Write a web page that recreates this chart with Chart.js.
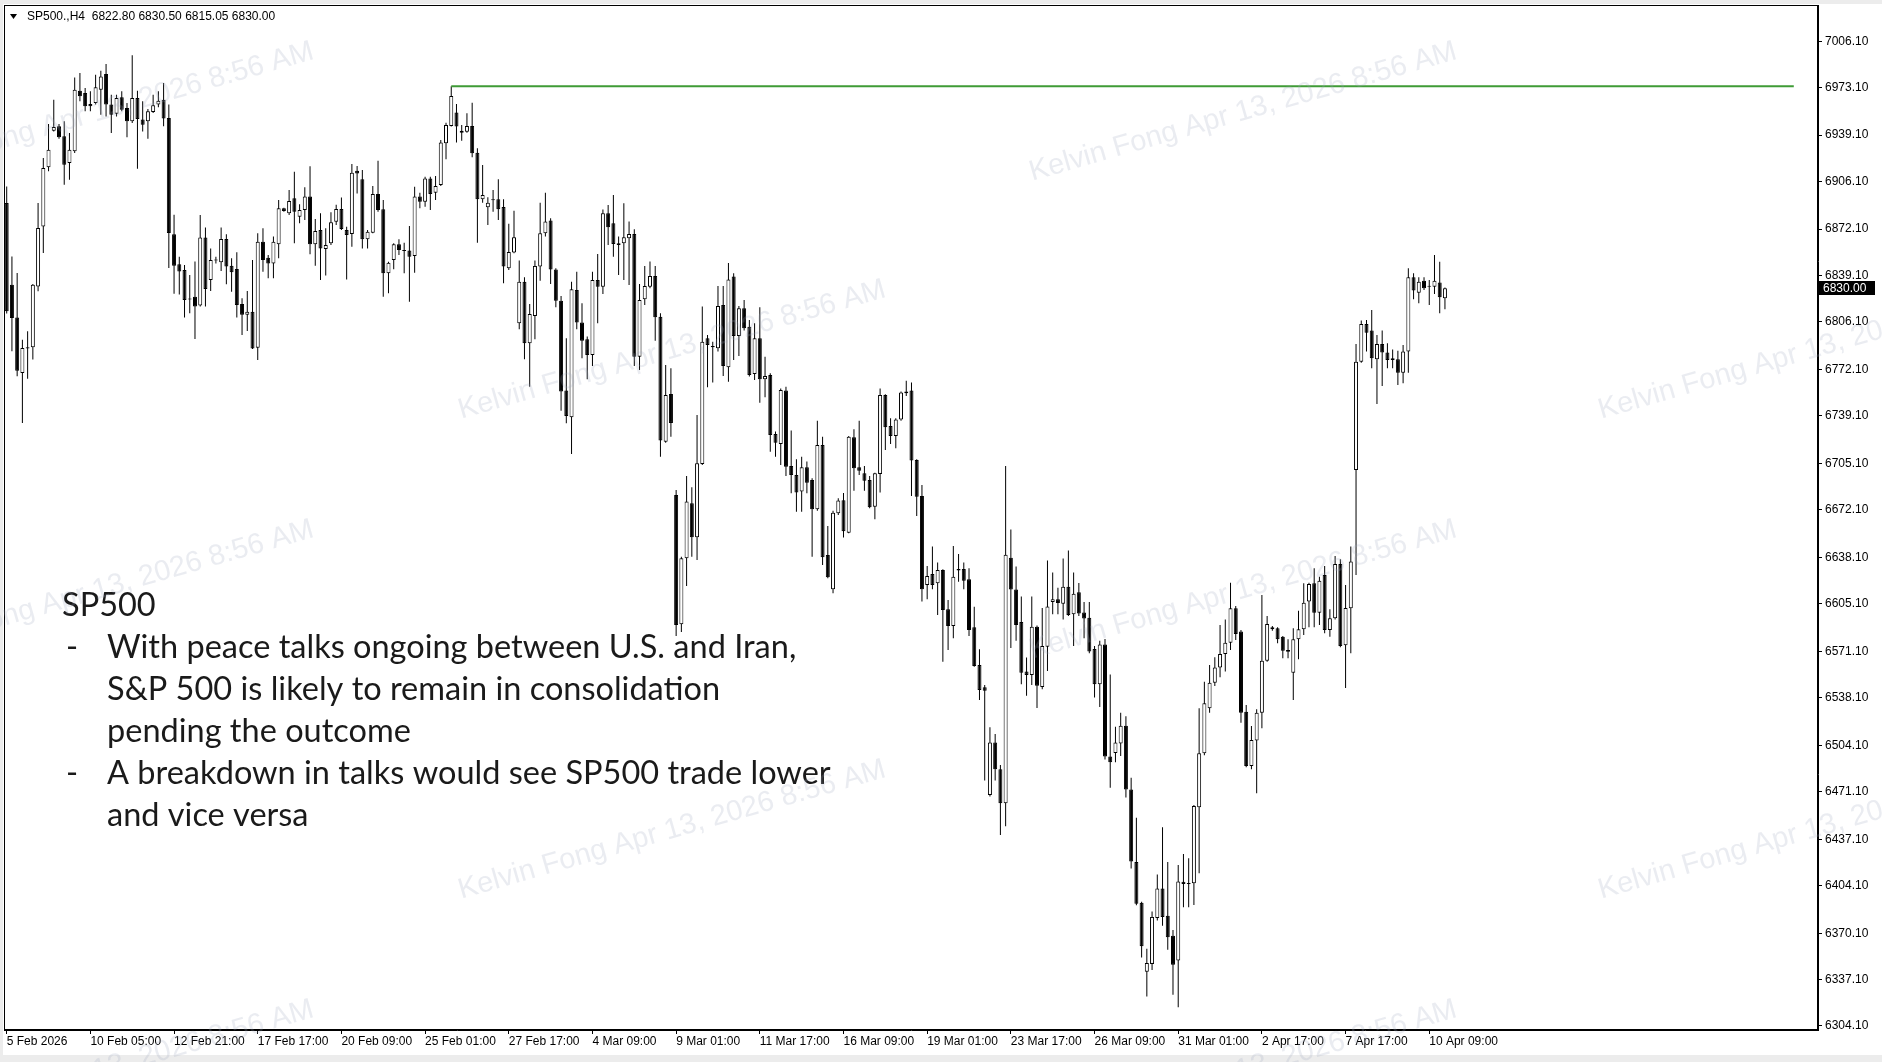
<!DOCTYPE html>
<html>
<head>
<meta charset="utf-8">
<title>SP500 H4</title>
<script src="https://cdn.jsdelivr.net/npm/chart.js@4.4.1/dist/chart.umd.min.js"></script>
<style>
    html, body { margin: 0; padding: 0; background: #ffffff; }
    #wrap { width: 1882px; height: 1062px; }
</style>
</head>
<body>
<div id="wrap"><canvas id="priceChart" width="1882" height="1062"></canvas></div>
<script>
// H4 candles, 5 Feb 2026 -> 10 Apr 2026 (one row = 10 bars)
const opens = [
    6890.8, 6832.5, 6809.2, 6769.6, 6788.0, 6787.9, 6831.3, 6874.0, 6916.2, 6942.3,
    6945.4, 6938.3, 6919.3, 6927.6, 6970.8, 6969.2, 6961.3, 6962.0, 6971.5, 6982.7,
    6960.9, 6954.4, 6966.1, 6958.5, 6949.0, 6965.6, 6950.2, 6949.0, 6955.6, 6960.9,
    6964.4, 6951.4, 6868.5, 6847.0, 6843.0, 6822.5, 6824.0, 6817.6, 6866.1, 6835.9,
    6849.8, 6848.5, 6865.1, 6846.1, 6843.7, 6818.8, 6811.0, 6813.3, 6787.6, 6863.2,
    6851.8, 6847.7, 6861.3, 6887.0, 6883.4, 6894.1, 6881.0, 6885.8, 6895.3, 6861.3,
    6871.5, 6858.0, 6862.0, 6877.4, 6886.4, 6871.5, 6868.7, 6913.8, 6907.6, 6864.9,
    6869.6, 6897.2, 6886.3, 6840.6, 6850.1, 6861.3, 6856.8, 6856.8, 6853.0, 6895.3,
    6891.7, 6908.3, 6898.1, 6903.6, 6933.3, 6945.7, 6955.2, 6942.3, 6941.6, 6945.7,
    6926.6, 6893.4, 6887.7, 6892.9, 6893.4, 6887.9, 6844.2, 6855.4, 6805.0, 6834.7,
    6790.7, 6810.2, 6845.4, 6869.1, 6878.2, 6843.4, 6821.1, 6757.0, 6738.0, 6828.7,
    6805.5, 6793.6, 6782.4, 6835.9, 6831.1, 6883.4, 6876.3, 6862.0, 6862.0, 6865.6,
    6868.7, 6781.2, 6822.1, 6831.1, 6838.7, 6809.7, 6720.6, 6754.6, 6682.6, 6590.5,
    6637.5, 6676.7, 6652.4, 6704.7, 6794.3, 6788.8, 6787.2, 6818.0, 6773.6, 6838.3,
    6795.9, 6815.7, 6802.6, 6768.9, 6794.3, 6765.1, 6768.1, 6726.1, 6719.0, 6757.0,
    6703.3, 6696.9, 6685.0, 6702.3, 6693.3, 6672.4, 6718.3, 6639.8, 6615.4, 6669.5,
    6678.8, 6655.7, 6723.7, 6702.3, 6698.1, 6693.3, 6674.3, 6697.6, 6753.9, 6731.8,
    6724.7, 6736.5, 6756.3, 6757.0, 6707.6, 6681.9, 6618.4, 6626.3, 6619.6, 6629.1,
    6601.1, 6589.2, 6629.9, 6629.9, 6622.5, 6588.3, 6561.4, 6545.5, 6468.7, 6506.1,
    6487.1, 6462.8, 6637.9, 6615.2, 6592.0, 6556.7, 6554.2, 6588.7, 6545.8, 6574.4,
    6606.4, 6608.2, 6605.1, 6617.2, 6597.6, 6613.2, 6598.8, 6595.1, 6572.8, 6547.6,
    6576.1, 6496.1, 6498.6, 6505.5, 6518.1, 6472.7, 6420.9, 6391.9, 6342.7, 6348.3,
    6381.1, 6402.0, 6382.6, 6368.4, 6350.8, 6406.9, 6405.3, 6405.8, 6460.0, 6498.4,
    6530.5, 6548.8, 6559.7, 6569.3, 6577.3, 6601.8, 6585.2, 6528.1, 6489.4, 6507.5,
    6527.4, 6564.5, 6588.3, 6587.6, 6581.6, 6572.1, 6555.9, 6579.7, 6586.8, 6606.6,
    6619.6, 6598.7, 6625.6, 6586.4, 6594.7, 6633.4, 6575.5, 6601.8, 6700.4, 6777.6,
    6804.5, 6799.8, 6779.3, 6790.2, 6784.1, 6780.0, 6779.3, 6769.8, 6784.8, 6837.8,
    6826.8, 6835.4, 6831.5, 6831.1, 6834.0, 6822.80
];
const highs = [
    6902.6, 6852.7, 6840.9, 6793.3, 6799.3, 6833.0, 6890.8, 6922.8, 6947.1, 6964.4,
    6947.1, 6949.0, 6940.7, 6980.3, 6983.4, 6972.8, 6970.4, 6982.2, 6985.1, 6989.8,
    6968.0, 6968.0, 6970.4, 6962.0, 6996.0, 6970.8, 6963.2, 6957.8, 6968.0, 6970.4,
    6976.3, 6960.9, 6882.3, 6852.5, 6846.6, 6839.4, 6849.0, 6882.2, 6873.2, 6858.4,
    6852.5, 6873.2, 6868.4, 6851.3, 6855.6, 6822.8, 6828.0, 6850.1, 6869.1, 6872.7,
    6853.7, 6866.8, 6892.9, 6887.4, 6900.0, 6913.0, 6889.8, 6902.0, 6917.0, 6879.4,
    6883.4, 6872.7, 6884.1, 6889.5, 6894.7, 6873.9, 6918.6, 6917.1, 6914.3, 6871.5,
    6902.9, 6920.9, 6892.9, 6848.9, 6862.0, 6864.9, 6862.5, 6874.4, 6902.4, 6898.1,
    6909.5, 6909.5, 6910.0, 6935.7, 6948.0, 6974.0, 6961.3, 6946.4, 6954.7, 6962.3,
    6929.7, 6917.8, 6894.8, 6900.0, 6907.6, 6893.4, 6876.0, 6885.3, 6849.7, 6837.8,
    6818.8, 6849.7, 6891.0, 6898.0, 6879.8, 6844.2, 6824.5, 6794.3, 6834.7, 6841.8,
    6819.2, 6795.5, 6841.8, 6854.4, 6886.2, 6889.3, 6896.5, 6866.8, 6890.5, 6877.5,
    6872.0, 6833.0, 6845.9, 6849.0, 6845.9, 6812.1, 6775.3, 6772.9, 6686.2, 6638.6,
    6696.1, 6688.1, 6739.6, 6816.9, 6796.7, 6791.9, 6831.6, 6831.6, 6848.0, 6840.6,
    6817.3, 6821.6, 6807.4, 6805.0, 6816.4, 6781.2, 6769.3, 6727.8, 6758.6, 6759.8,
    6728.5, 6708.0, 6709.9, 6706.4, 6694.5, 6735.6, 6724.2, 6660.5, 6671.4, 6680.2,
    6684.0, 6724.7, 6729.4, 6735.6, 6703.3, 6696.1, 6698.5, 6758.6, 6754.5, 6737.3,
    6737.3, 6756.3, 6764.1, 6762.7, 6708.0, 6689.7, 6632.0, 6645.8, 6634.4, 6629.6,
    6607.7, 6646.2, 6640.5, 6634.4, 6630.3, 6603.0, 6572.6, 6547.2, 6517.0, 6512.2,
    6490.1, 6703.3, 6658.0, 6631.6, 6610.2, 6566.8, 6610.2, 6589.5, 6602.1, 6635.9,
    6627.3, 6616.5, 6637.4, 6643.0, 6627.3, 6619.8, 6606.4, 6606.4, 6574.9, 6578.6,
    6579.9, 6554.7, 6517.3, 6527.4, 6524.9, 6481.0, 6452.5, 6392.7, 6359.1, 6385.6,
    6412.1, 6445.7, 6420.9, 6372.5, 6418.9, 6426.7, 6423.6, 6461.6, 6530.5, 6549.5,
    6561.4, 6566.9, 6589.9, 6593.9, 6620.1, 6603.4, 6586.4, 6532.9, 6517.9, 6529.8,
    6611.3, 6596.3, 6589.2, 6588.3, 6582.1, 6579.7, 6587.6, 6600.1, 6619.6, 6620.1,
    6630.3, 6624.4, 6632.0, 6601.1, 6639.1, 6636.7, 6618.5, 6645.8, 6790.2, 6806.9,
    6807.3, 6814.5, 6796.7, 6799.8, 6790.7, 6786.4, 6785.5, 6789.5, 6844.2, 6840.6,
    6837.8, 6837.8, 6835.9, 6853.7, 6848.9, 6830.50
];
const lows = [
    6812.0, 6785.0, 6767.2, 6733.9, 6765.5, 6779.1, 6827.8, 6855.1, 6913.3, 6941.8,
    6936.6, 6903.8, 6907.4, 6926.4, 6963.2, 6956.1, 6956.1, 6960.9, 6953.7, 6952.5,
    6940.7, 6952.5, 6956.1, 6937.6, 6947.8, 6915.2, 6941.8, 6936.6, 6954.9, 6959.0,
    6945.4, 6844.4, 6826.0, 6825.6, 6809.1, 6812.1, 6793.8, 6816.9, 6816.9, 6828.0,
    6847.7, 6842.3, 6832.8, 6827.5, 6809.1, 6796.7, 6799.5, 6786.7, 6778.8, 6841.8,
    6837.1, 6837.1, 6851.3, 6884.6, 6882.2, 6862.0, 6876.3, 6878.6, 6854.2, 6846.1,
    6835.9, 6839.0, 6860.8, 6875.0, 6871.5, 6836.3, 6859.6, 6897.6, 6858.4, 6858.4,
    6869.1, 6884.6, 6824.0, 6826.4, 6843.5, 6853.7, 6840.6, 6820.4, 6841.1, 6887.0,
    6888.1, 6885.8, 6892.9, 6902.9, 6921.9, 6945.2, 6933.8, 6935.2, 6940.9, 6923.3,
    6862.5, 6891.0, 6875.1, 6884.6, 6878.6, 6833.5, 6843.0, 6854.9, 6800.7, 6779.3,
    6759.8, 6793.6, 6835.4, 6866.8, 6833.0, 6816.4, 6742.7, 6733.7, 6711.8, 6800.7,
    6780.0, 6765.1, 6774.6, 6805.0, 6825.9, 6860.8, 6852.5, 6839.4, 6835.9, 6832.3,
    6774.6, 6771.7, 6818.1, 6829.9, 6792.6, 6709.9, 6719.9, 6724.2, 6582.0, 6585.0,
    6617.8, 6638.6, 6636.3, 6704.0, 6759.4, 6762.7, 6784.8, 6767.4, 6763.4, 6778.8,
    6781.7, 6799.8, 6767.0, 6764.6, 6748.4, 6752.2, 6713.5, 6709.9, 6704.0, 6696.1,
    6683.8, 6670.7, 6670.7, 6683.8, 6638.6, 6671.4, 6632.7, 6623.2, 6612.5, 6668.4,
    6652.3, 6655.3, 6685.7, 6696.9, 6685.7, 6673.1, 6665.3, 6684.3, 6714.7, 6719.0,
    6715.9, 6735.6, 6753.2, 6681.9, 6667.6, 6606.6, 6608.2, 6615.4, 6597.1, 6563.8,
    6572.1, 6580.4, 6620.8, 6615.4, 6582.1, 6560.2, 6536.5, 6479.0, 6467.6, 6479.0,
    6440.2, 6446.4, 6573.5, 6578.6, 6547.6, 6539.5, 6547.1, 6530.7, 6544.1, 6557.2,
    6597.6, 6597.6, 6593.8, 6596.3, 6574.9, 6596.3, 6580.4, 6569.8, 6538.3, 6531.5,
    6494.1, 6473.9, 6492.1, 6496.6, 6466.9, 6416.4, 6390.1, 6352.8, 6325.0, 6344.0,
    6379.3, 6375.5, 6358.4, 6326.3, 6317.5, 6388.7, 6388.7, 6390.3, 6412.9, 6497.0,
    6527.4, 6546.4, 6552.6, 6556.7, 6572.1, 6579.2, 6520.3, 6488.5, 6487.1, 6469.9,
    6516.3, 6563.8, 6585.9, 6576.9, 6566.2, 6566.2, 6536.5, 6565.5, 6582.8, 6588.3,
    6588.3, 6589.9, 6584.0, 6581.6, 6593.9, 6574.0, 6545.0, 6569.7, 6625.6, 6776.9,
    6784.8, 6772.9, 6747.5, 6760.3, 6772.9, 6772.9, 6761.0, 6762.2, 6769.8, 6822.1,
    6819.2, 6828.7, 6818.0, 6825.9, 6812.1, 6815.05
];
const closes = [
    6813.5, 6808.8, 6771.2, 6787.4, 6787.0, 6832.5, 6872.9, 6915.7, 6928.8, 6944.9,
    6937.6, 6918.1, 6928.8, 6971.5, 6966.8, 6959.7, 6959.7, 6973.2, 6981.0, 6960.9,
    6953.7, 6965.6, 6957.3, 6949.0, 6965.6, 6950.6, 6946.6, 6956.1, 6960.4, 6963.7,
    6950.9, 6869.4, 6846.0, 6842.0, 6821.6, 6822.0, 6816.9, 6866.1, 6829.5, 6850.1,
    6850.4, 6865.1, 6845.4, 6841.3, 6818.0, 6811.0, 6813.3, 6787.1, 6863.2, 6850.1,
    6847.7, 6863.2, 6887.0, 6885.1, 6892.2, 6884.6, 6885.8, 6895.3, 6861.3, 6870.8,
    6858.4, 6860.8, 6877.0, 6886.4, 6872.3, 6867.9, 6912.4, 6911.8, 6864.9, 6870.3,
    6897.2, 6885.8, 6840.6, 6848.2, 6861.3, 6857.3, 6856.5, 6852.5, 6895.3, 6891.7,
    6908.3, 6897.2, 6902.9, 6933.8, 6946.4, 6967.0, 6945.2, 6940.9, 6945.7, 6926.2,
    6893.4, 6896.5, 6891.0, 6892.7, 6886.3, 6845.4, 6855.8, 6866.3, 6834.7, 6790.7,
    6811.6, 6845.9, 6869.1, 6877.5, 6843.4, 6821.1, 6756.3, 6738.9, 6829.2, 6805.5,
    6792.6, 6782.4, 6835.9, 6831.1, 6883.4, 6873.4, 6861.5, 6860.8, 6866.3, 6868.7,
    6781.2, 6821.6, 6831.6, 6838.7, 6809.3, 6721.4, 6753.9, 6734.0, 6590.0, 6637.5,
    6677.9, 6652.4, 6705.2, 6791.9, 6789.5, 6787.9, 6817.3, 6774.6, 6836.3, 6795.9,
    6815.7, 6801.4, 6768.1, 6794.3, 6765.1, 6767.4, 6725.4, 6719.9, 6757.5, 6702.8,
    6696.9, 6684.3, 6702.3, 6691.4, 6672.4, 6718.3, 6638.2, 6623.9, 6670.0, 6678.6,
    6656.8, 6724.2, 6701.6, 6699.9, 6692.8, 6673.8, 6698.1, 6753.9, 6730.8, 6724.7,
    6736.5, 6755.6, 6755.1, 6707.1, 6681.4, 6615.4, 6624.9, 6618.4, 6629.1, 6600.6,
    6589.2, 6624.4, 6628.7, 6621.5, 6586.4, 6560.7, 6543.6, 6543.1, 6506.1, 6487.1,
    6462.8, 6640.0, 6615.2, 6590.0, 6555.9, 6554.2, 6588.7, 6546.6, 6574.9, 6603.1,
    6608.2, 6605.6, 6617.2, 6597.1, 6612.2, 6598.1, 6594.5, 6571.1, 6547.6, 6576.1,
    6496.1, 6492.1, 6506.2, 6518.1, 6472.7, 6421.4, 6391.2, 6360.9, 6349.0, 6381.8,
    6402.0, 6381.8, 6367.4, 6347.7, 6407.1, 6405.3, 6405.8, 6460.9, 6498.4, 6534.1,
    6548.8, 6559.7, 6569.3, 6577.3, 6601.8, 6583.5, 6527.4, 6489.4, 6507.9, 6527.4,
    6564.5, 6590.6, 6586.8, 6579.7, 6571.6, 6570.9, 6579.7, 6586.8, 6605.8, 6619.2,
    6598.7, 6621.5, 6586.4, 6594.7, 6633.4, 6575.0, 6602.0, 6635.1, 6777.6, 6804.5,
    6798.3, 6780.0, 6790.2, 6784.1, 6778.8, 6778.8, 6769.8, 6784.8, 6837.8, 6828.3,
    6834.7, 6829.9, 6831.0, 6835.4, 6823.5, 6830.00
];

// one time label every 16 bars
const tickEvery = 16;
const timeLabels = [
    '5 Feb 2026', '10 Feb 05:00', '12 Feb 21:00', '17 Feb 17:00', '20 Feb 09:00',
    '25 Feb 01:00', '27 Feb 17:00', '4 Mar 09:00', '9 Mar 01:00', '11 Mar 17:00',
    '16 Mar 09:00', '19 Mar 01:00', '23 Mar 17:00', '26 Mar 09:00', '31 Mar 01:00',
    '2 Apr 17:00', '7 Apr 17:00', '10 Apr 09:00'
];
const priceTicks = [
    7006.10, 6973.10, 6939.10, 6906.10, 6872.10, 6839.10, 6806.10, 6772.10,
    6739.10, 6705.10, 6672.10, 6638.10, 6605.10, 6571.10, 6538.10, 6504.10,
    6471.10, 6437.10, 6404.10, 6370.10, 6337.10, 6304.10
];

// resistance level drawn from the 25 Feb high
const levelPrice = 6974.0;
const levelFromBar = 85;
const levelToBar = 341.7;

const lastPrice = 6830.00;
const headerText = 'SP500.,H4  6822.80 6830.50 6815.05 6830.00';
const noteTitle = 'SP500';
const noteLines = [
    { dash: true, text: 'With peace talks ongoing between U.S. and Iran,' },
    { dash: false, text: 'S&P 500 is likely to remain in consolidation' },
    { dash: false, text: 'pending the outcome' },
    { dash: true, text: 'A breakdown in talks would see SP500 trade lower' },
    { dash: false, text: 'and vice versa' }
];
const watermark = 'Kelvin Fong Apr 13, 2026 8:56 AM';

const axisFont = { family: '"Liberation Sans", Arial, sans-serif', size: 12 };

const barIdx = opens.map((_, i) => i);
const wickData = barIdx.map(i => ({ x: i, y: [lows[i], highs[i]] }));
const bodyData = barIdx.map(i => ({ x: i, y: [opens[i], closes[i]] }));

// kill the label overhang padding so the plot fills the frame
function noPad(scale) {
    scale.paddingTop = 0;
    scale.paddingBottom = 0;
    scale.paddingLeft = 0;
    scale.paddingRight = 0;
}

const chartDecor = {
    id: 'chartDecor',
    beforeDraw(chart) {
        const ctx = chart.ctx;
        ctx.save();
        ctx.fillStyle = '#ffffff';
        ctx.fillRect(0, 0, chart.width, chart.height);
        ctx.fillStyle = '#ececec';
        ctx.fillRect(0, 0, chart.width, 4);
        ctx.fillRect(0, 0, 3, chart.height);
        ctx.fillRect(0, 1055, chart.width, 7);
        ctx.restore();
    },
    afterDraw(chart) {
        const { ctx, chartArea: a, scales } = chart;
        ctx.save();

        // frame
        ctx.strokeStyle = '#000000';
        ctx.lineWidth = 1;
        ctx.strokeRect(a.left + 0.5, a.top + 0.5, a.right - a.left - 1, a.bottom - a.top - 1);

        // header
        ctx.fillStyle = '#000000';
        ctx.beginPath();
        ctx.moveTo(10, 14);
        ctx.lineTo(17, 14);
        ctx.lineTo(13.5, 19);
        ctx.closePath();
        ctx.fill();
        ctx.font = '12px "Liberation Sans", Arial, sans-serif';
        ctx.textBaseline = 'middle';
        ctx.textAlign = 'left';
        ctx.fillText(headerText, 27, 17);

        // last price box on the axis
        const py = Math.round(scales.y.getPixelForValue(lastPrice));
        ctx.fillStyle = '#000000';
        ctx.fillRect(a.right + 1, py - 7, 56, 14);
        ctx.fillStyle = '#ffffff';
        ctx.fillText(lastPrice.toFixed(2), a.right + 5, py + 0.5);

        // commentary
        ctx.fillStyle = '#1a1a1a';
        ctx.font = '32.5px Lato, "Open Sans", sans-serif';
        ctx.fillText(noteTitle, 62, 606);
        noteLines.forEach((ln, k) => {
            const y = 648 + k * 42;
            if (ln.dash) ctx.fillText('-', 66, y);
            ctx.fillText(ln.text, 107, y);
        });

        // faint watermarks
        ctx.fillStyle = 'rgba(160, 168, 190, 0.22)';
        ctx.font = '29px "Liberation Sans", Arial, sans-serif';
        ctx.textAlign = 'center';
        const spots = [
            [100, 112], [1243, 112], [672, 350], [1812, 350],
            [100, 590], [1243, 590], [672, 830], [1812, 830],
            [100, 1070], [1243, 1070]
        ];
        spots.forEach(([cx, cy]) => {
            ctx.save();
            ctx.translate(cx, cy);
            ctx.rotate(-16 * Math.PI / 180);
            ctx.fillText(watermark, 0, 0);
            ctx.restore();
        });

        ctx.restore();
    }
};

new Chart(document.getElementById('priceChart'), {
    type: 'bar',
    data: {
        datasets: [
            {
                type: 'line',
                data: [{ x: levelFromBar, y: levelPrice }, { x: levelToBar, y: levelPrice }],
                borderColor: '#3f9b36',
                borderWidth: 2,
                pointRadius: 0,
                order: 1
            },
            {
                data: bodyData,
                grouped: false,
                barThickness: 4,
                minBarLength: 1,
                borderSkipped: false,
                inflateAmount: 0,
                borderWidth: 1,
                borderColor: '#000000',
                backgroundColor: ctx => closes[ctx.dataIndex] >= opens[ctx.dataIndex] ? '#ffffff' : '#000000',
                order: 2
            },
            {
                data: wickData,
                grouped: false,
                barThickness: 1,
                borderWidth: 0,
                inflateAmount: 0,
                backgroundColor: '#000000',
                order: 3
            }
        ]
    },
    options: {
        responsive: false,
        maintainAspectRatio: false,
        animation: false,
        events: [],
        layout: { padding: { left: 4, top: 5, right: 0, bottom: 0 } },
        plugins: {
            legend: { display: false },
            tooltip: { enabled: false }
        },
        scales: {
            x: {
                type: 'linear',
                position: 'bottom',
                offset: false,
                min: -0.516,
                max: 346.33,
                afterBuildTicks: scale => {
                    scale.ticks = timeLabels.map((_, k) => ({ value: k * tickEvery }));
                },
                afterFit: scale => { scale.height = 32; noPad(scale); },
                ticks: {
                    autoSkip: false,
                    maxRotation: 0,
                    align: 'start',
                    padding: 0,
                    color: '#000000',
                    font: axisFont,
                    callback: value => timeLabels[Math.round(value / tickEvery)]
                },
                grid: {
                    offset: false,
                    drawOnChartArea: false,
                    drawTicks: true,
                    tickLength: 4,
                    color: '#000000'
                },
                border: { display: true, color: '#000000' }
            },
            y: {
                type: 'linear',
                position: 'right',
                min: 6301.2,
                max: 7031.9,
                afterBuildTicks: scale => {
                    scale.ticks = priceTicks.map(v => ({ value: v }));
                },
                afterFit: scale => { scale.width = 64; noPad(scale); },
                ticks: {
                    autoSkip: false,
                    padding: 3,
                    color: '#000000',
                    font: axisFont,
                    callback: value => Number(value).toFixed(2)
                },
                grid: {
                    drawOnChartArea: false,
                    drawTicks: true,
                    tickLength: 4,
                    color: '#000000'
                },
                border: { display: true, color: '#000000' }
            }
        }
    },
    plugins: [chartDecor]
});
</script>
</body>
</html>
